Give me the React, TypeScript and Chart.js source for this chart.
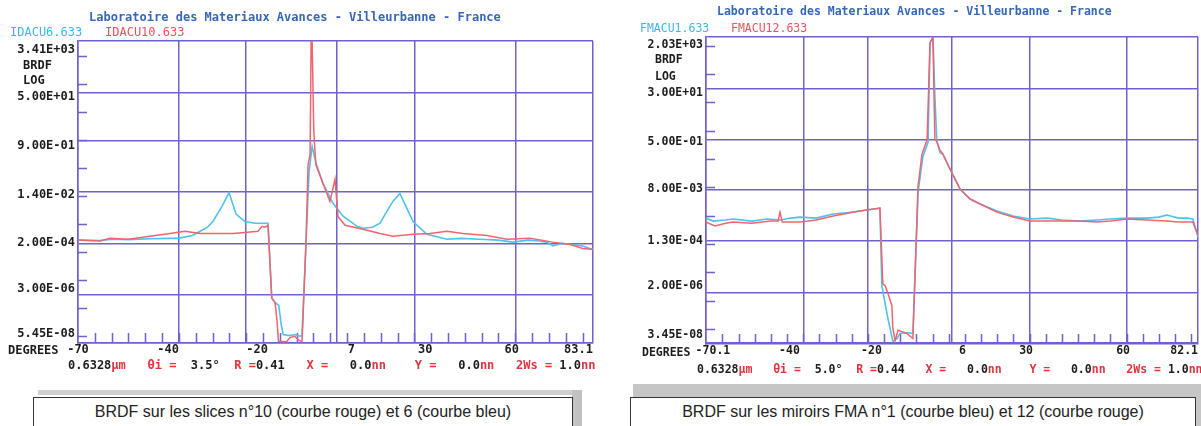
import React, { useEffect, useRef } from "react";
import { Chart, registerables } from "chart.js";
Chart.register(...registerables);

const GRID = "#6e62cc";
const BLUE = "#4cc2ec";
const RED = "#f0646e";
const INK = "#1c1c1c";
const LRED = "#e0343e";
const MONO = "'DejaVu Sans Mono', monospace";

// ---------- Left panel (slices) ----------
const leftXTicks = [-70, -40, -20, 7, 30, 60, 83.1];
const leftXLabels = ["-70", "-40   ", "   -20", "    7", "   30", "60 ", "83.1    "];
const leftYTicks = [5.45e-8, 3.0e-6, 2.0e-4, 1.4e-2, 9.0e-1, 5.0e1, 3.41e3];
const leftYLabels = ["5.45E-08", "3.00E-06", "2.00E-04", "1.40E-02", "9.00E-01", "5.00E+01", "3.41E+03"];
const leftYMinor = [1e3, 1e2, 1e1, 1e0, 1e-1, 1e-2, 1e-3, 1e-4, 1e-5, 1e-6, 1e-7];
const leftXMinor = [-65, -60, -55, -50, -45, -40, -35, -30, -25, -20, -15, -10, -5, 0, 5, 10, 15, 20, 25, 30, 35, 40, 45, 50, 55, 60, 65, 70, 75, 80];

const leftBlueX = [-70, -63.5, -60, -55, -48.6, -42.7, -40.3, -36, -33.7, -31.5, -29.9, -27.2, -25.1, -23.0, -20.4, -17.4, -13.5, -12.4, -11.4, -10.3, -9.6, -9.0, -7, -5.5, -4, -3.4, -2.2, -1.3, -0.4, 0.9, 2.8, 5.8, 8.8, 13, 14.7, 17.5, 19.8, 21.5, 23.6, 25.7, 27.5, 29.6, 33.7, 39.7, 44, 49.5, 55, 59.3, 63.8, 67, 69.4, 71.2, 74, 77.1, 80, 83.1];
const leftBlueY = [2.6e-4, 2.5e-4, 2.8e-4, 2.7e-4, 2.9e-4, 3.0e-4, 3.0e-4, 3.8e-4, 5.4e-4, 7.5e-4, 1.2e-3, 4.2e-3, 1.3e-2, 2.2e-3, 1.2e-3, 1.04e-3, 1.04e-3, 2.2e-6, 1.5e-6, 1.2e-6, 2.5e-7, 1.1e-7, 1.0e-7, 1.1e-7, 9.5e-8, 1.0e-7, 2.4e-4, 7.5e-2, 0.59, 0.13, 2.8e-2, 5.4e-3, 1.85e-3, 8.1e-4, 6.9e-4, 7.5e-4, 1.04e-3, 2.4e-3, 6.3e-3, 1.22e-2, 4.2e-3, 1.2e-3, 4.2e-4, 2.8e-4, 3.0e-4, 2.8e-4, 2.6e-4, 2.2e-4, 2.6e-4, 2.4e-4, 2.2e-4, 1.6e-4, 2.0e-4, 1.8e-4, 1.6e-4, 1.2e-4];

const leftRedX = [-70, -63.5, -60.5, -55, -48.6, -42.7, -38.2, -33.7, -29.3, -24, -20.4, -16.5, -15.3, -14.4, -13.5, -12.4, -11.4, -10.8, -10.4, -8, -7, -5.5, -4.5, -3.4, -2.2, -1.6, -1.0, -0.7, -0.4, 0.1, 0.7, 2.8, 4.9, 6.4, 7.3, 9.4, 14.7, 19.8, 23.6, 29.6, 34.6, 39.7, 44.4, 51.6, 57.5, 64.4, 71.2, 76.3, 80.1, 83.1];
const leftRedY = [2.6e-4, 2.4e-4, 3.0e-4, 2.8e-4, 3.6e-4, 4.5e-4, 5.4e-4, 4.5e-4, 4.5e-4, 4.5e-4, 4.9e-4, 5.4e-4, 8.1e-4, 7.5e-4, 8.8e-4, 2.2e-6, 1.5e-6, 3.0e-7, 6.3e-8, 6.0e-8, 8.5e-8, 9.5e-8, 7.0e-8, 6.0e-8, 2.4e-4, 0.13, 0.3, 3.41e3, 3.41e3, 2.0, 0.13, 2.8e-2, 6.3e-3, 3.9e-2, 1.8e-3, 8.8e-4, 6.3e-4, 4.5e-4, 3.6e-4, 4.2e-4, 4.5e-4, 5.4e-4, 4.5e-4, 3.8e-4, 2.8e-4, 3.0e-4, 2.2e-4, 1.8e-4, 1.3e-4, 1.2e-4];

// ---------- Right panel (FMA mirrors) ----------
const rightXTicks = [-70.1, -40, -20, 6, 30, 60, 82.1];
const rightXLabels = ["  -70.1", "-40    ", " -20", "   6", "30 ", "60 ", "82.1    "];
const rightYTicks = [3.45e-8, 2.0e-6, 1.3e-4, 8.0e-3, 5.0e-1, 3.0e1, 2.03e3];
const rightYLabels = ["3.45E-08", "2.00E-06", "1.30E-04", "8.00E-03", "5.00E-01", "3.00E+01", "2.03E+03"];
const rightYMinor = [1e3, 1e2, 1e1, 1e0, 1e-1, 1e-2, 1e-3, 1e-4, 1e-5, 1e-6, 1e-7];
const rightXMinor = [-65, -60, -55, -50, -45, -40, -35, -30, -25, -20, -15, -10, -5, 0, 5, 10, 15, 20, 25, 30, 35, 40, 45, 50, 55, 60, 65, 70, 75, 80];

const rightBlueX = [-70.1, -67.9, -64, -61.7, -56, -51.2, -47, -44, -41.0, -36, -30.8, -26, -22.5, -16.3, -15.7, -14.0, -12.3, -11, -10.1, -8, -6.1, -4.5, -3.0, -1.4, -0.8, 0.1, 0.7, 1.3, 2.3, 3.2, 5.4, 8.5, 11.6, 14.7, 19.9, 24.9, 30.1, 35.4, 40, 45.6, 50.8, 55, 60.1, 66.3, 70, 72.5, 76, 78.7, 80.5, 82.1];
const rightBlueY = [8.3e-4, 6.5e-4, 7.1e-4, 7.7e-4, 6.5e-4, 7.7e-4, 7.1e-4, 8.3e-4, 9.0e-4, 8.3e-4, 1.15e-3, 1.3e-3, 1.47e-3, 1.87e-3, 3.4e-6, 3.0e-7, 3.7e-8, 4.7e-8, 7.1e-8, 7.5e-8, 7.1e-8, 6.8e-3, 0.125, 0.39, 1.25e3, 2.03e3, 15.9, 0.42, 0.17, 0.147, 4.4e-2, 8.7e-3, 3.9e-3, 2.6e-3, 1.47e-3, 9.8e-4, 7.7e-4, 8.3e-4, 7.1e-4, 6.5e-4, 7.1e-4, 7.7e-4, 8.3e-4, 8.3e-4, 9.0e-4, 1.06e-3, 8.3e-4, 8.3e-4, 7.7e-4, 1.8e-4];

const rightRedX = [-70.1, -67.3, -64, -61.7, -56, -50, -47.8, -47.2, -46.5, -41.0, -36, -30.8, -22.5, -16.3, -15.4, -14.7, -13.8, -12.6, -12.3, -11.6, -10.7, -8, -6.1, -4.5, -3.3, -1.7, -0.8, 0.1, 0.7, 1.3, 2.3, 3.2, 5.4, 8.5, 11.6, 14.7, 19.9, 24.9, 30.1, 35.4, 40, 45.6, 50.8, 55, 60.1, 66.3, 72.5, 76, 78.7, 80.5, 82.1];
const rightRedY = [6.0e-4, 4.4e-4, 5.5e-4, 6.0e-4, 5.5e-4, 6.5e-4, 6.5e-4, 1.35e-3, 6.0e-4, 6.0e-4, 7.1e-4, 9.8e-4, 1.47e-3, 1.87e-3, 4.0e-6, 3.4e-6, 1.8e-6, 6.8e-7, 1.06e-7, 4.0e-8, 9.1e-8, 7.1e-8, 4.7e-8, 1.1e-2, 0.147, 0.49, 1.25e3, 2.03e3, 0.49, 0.42, 0.2, 0.15, 4.4e-2, 8.7e-3, 3.9e-3, 2.6e-3, 1.35e-3, 9.0e-4, 6.5e-4, 6.5e-4, 6.5e-4, 6.5e-4, 6.0e-4, 6.5e-4, 7.7e-4, 7.1e-4, 6.5e-4, 6.0e-4, 6.0e-4, 6.0e-4, 2.0e-4];

// Vertical nudges (px) of the y tick labels relative to their grid lines (layout only)
const leftYLabelNudge = [-9, -5, 0, 3, 5, 5, 9];
const rightYLabelNudge = [-7, -6, 0, -1, 3, 4, 8];

const minorTicksPlugin = {
  id: "minorTicks",
  beforeDatasetsDraw(chart: any, _args: any, opts: any) {
    const { ctx, chartArea, scales } = chart;
    ctx.save();
    ctx.strokeStyle = GRID;
    ctx.lineWidth = 1.5;
    ctx.beginPath();
    for (const v of opts.yMinor) {
      const y = Math.round(scales.y.getPixelForValue(v)) + 0.5;
      ctx.moveTo(chartArea.left, y);
      ctx.lineTo(chartArea.left + 9, y);
    }
    for (const v of opts.xMinor) {
      const x = Math.round(scales.x.getPixelForValue(v)) + 0.5;
      ctx.moveTo(x, chartArea.bottom);
      ctx.lineTo(x, chartArea.bottom - 10);
    }
    ctx.stroke();
    ctx.restore();
  },
};

type Panel = {
  xTicks: number[]; xLabels: string[]; yTicks: number[]; yLabels: string[]; yNudge: number[];
  yMinor: number[]; xMinor: number[];
  blueX: number[]; blueY: number[]; redX: number[]; redY: number[];
  yWidth: number; padding: any; fontSize: number;
};

function buildConfig(p: Panel): any {
  const font = { family: MONO, weight: "bold" as const, size: p.fontSize };
  return {
    type: "line",
    data: {
      datasets: [
        { data: p.redX.map((x, i) => ({ x, y: p.redY[i] })), borderColor: RED, borderWidth: 1.5, pointRadius: 0, tension: 0 },
        { data: p.blueX.map((x, i) => ({ x, y: p.blueY[i] })), borderColor: BLUE, borderWidth: 1.6, pointRadius: 0, tension: 0 },
      ],
    },
    options: {
      responsive: false,
      animation: false,
      devicePixelRatio: 1,
      layout: { padding: p.padding },
      plugins: {
        legend: { display: false },
        tooltip: { enabled: false },
        minorTicks: { yMinor: p.yMinor, xMinor: p.xMinor },
      },
      scales: {
        x: {
          type: "linear",
          min: p.xTicks[0],
          max: p.xTicks[p.xTicks.length - 1],
          afterBuildTicks: (s: any) => { s.ticks = p.xTicks.map((v) => ({ value: v })); },
          afterFit: (s: any) => { s.height = 20; s.paddingLeft = 0; s.paddingRight = 0; },
          ticks: { callback: (_v: any, i: number) => p.xLabels[i], font, color: INK, padding: 0, maxRotation: 0, autoSkip: false },
          grid: { color: GRID, lineWidth: 1.5, drawTicks: false },
          border: { color: GRID, width: 1.5 },
        },
        y: {
          type: "logarithmic",
          min: p.yTicks[0],
          max: p.yTicks[p.yTicks.length - 1],
          afterBuildTicks: (s: any) => { s.ticks = p.yTicks.map((v) => ({ value: v })); },
          afterFit: (s: any) => { s.width = p.yWidth; s.paddingTop = 0; s.paddingBottom = 0; },
          ticks: {
            callback: (_v: any, i: number) => {
              const n = p.yNudge[i] || 0;
              if (n > 0) return ["", p.yLabels[i]];
              if (n < 0) return [p.yLabels[i], ""];
              return p.yLabels[i];
            },
            font: (c: any) => {
              const n = Math.abs(p.yNudge[c.index] || 0);
              return { ...font, lineHeight: n > 0 ? `${2 * n}px` : 1.2 };
            },
            color: INK, padding: 3, autoSkip: false,
          },
          grid: { color: GRID, lineWidth: 1.5, drawTicks: false },
          border: { color: GRID, width: 1.5 },
        },
      },
    },
    plugins: [minorTicksPlugin],
  };
}

const leftPanel: Panel = {
  xTicks: leftXTicks, xLabels: leftXLabels, yTicks: leftYTicks, yLabels: leftYLabels, yNudge: leftYLabelNudge,
  yMinor: leftYMinor, xMinor: leftXMinor,
  blueX: leftBlueX, blueY: leftBlueY, redX: leftRedX, redY: leftRedY,
  yWidth: 78, padding: { left: 0, top: 41, right: 27, bottom: 17 }, fontSize: 12,
};
const rightPanel: Panel = {
  xTicks: rightXTicks, xLabels: rightXLabels, yTicks: rightYTicks, yLabels: rightYLabels, yNudge: rightYLabelNudge,
  yMinor: rightYMinor, xMinor: rightXMinor,
  blueX: rightBlueX, blueY: rightBlueY, redX: rightRedX, redY: rightRedY,
  yWidth: 106, padding: { left: 0, top: 37, right: 3, bottom: 21 }, fontSize: 11.5,
};

function T(props: { x: number; y: number; size: number; color?: string; bold?: boolean; children: any }) {
  return (
    <div style={{ position: "absolute", left: props.x, top: props.y - props.size / 2 - 1, fontFamily: MONO, fontSize: props.size, lineHeight: `${props.size + 2}px`, fontWeight: props.bold ? "bold" : "normal", color: props.color || INK, whiteSpace: "pre" }}>
      {props.children}
    </div>
  );
}

function Info(props: { x: number; y: number; size: number; theta: string; r: string }) {
  const segs: [string, string][] = [
    ["0.6328", INK], ["μm", LRED], ["   θi =", LRED], [`  ${props.theta}°`, INK], ["  R =", LRED], [props.r, INK],
    ["   X =", LRED], ["   0.0", INK], ["nn", LRED], ["    Y =", LRED], ["   0.0", INK], ["nn", LRED],
    ["   2Ws =", LRED], [" 1.0", INK], ["nn", LRED],
  ];
  return (
    <T x={props.x} y={props.y} size={props.size} bold>
      {segs.map((s, i) => <span key={i} style={{ color: s[1] }}>{s[0]}</span>)}
    </T>
  );
}

export default function App() {
  const leftRef = useRef<HTMLCanvasElement>(null);
  const rightRef = useRef<HTMLCanvasElement>(null);
  useEffect(() => {
    const c1 = new Chart(leftRef.current as HTMLCanvasElement, buildConfig(leftPanel));
    const c2 = new Chart(rightRef.current as HTMLCanvasElement, buildConfig(rightPanel));
    return () => { c1.destroy(); c2.destroy(); };
  }, []);

  const caption: React.CSSProperties = {
    position: "absolute", top: 397, height: 40, boxSizing: "border-box", border: "1.5px solid #333",
    background: "#fff", fontFamily: "'Liberation Sans', Arial, sans-serif", fontSize: 16, color: "#222",
    textAlign: "center", lineHeight: "27px", whiteSpace: "nowrap",
  };

  return (
    <div style={{ position: "absolute", left: 0, top: 0, width: 1201, height: 426, overflow: "hidden", background: "#fff" }}>
      <canvas ref={leftRef} width={620} height={380} style={{ position: "absolute", left: 0, top: 0 }} />
      <canvas ref={rightRef} width={601} height={385} style={{ position: "absolute", left: 600, top: 0 }} />

      <T x={89} y={17} size={12} color="#3566b8" bold>Laboratoire des Materiaux Avances - Villeurbanne - France</T>
      <T x={10} y={32} size={12} color="#38b8ea">IDACU6.633</T>
      <T x={105} y={32} size={12} color="#f0505c">IDACU10.633</T>
      <T x={23} y={65} size={12} bold>BRDF</T>
      <T x={23} y={80} size={12} bold>LOG</T>
      <T x={8} y={350} size={12} bold>DEGREES</T>
      <Info x={68} y={365} size={12} theta="3.5" r="0.41" />

      <T x={717} y={12} size={11.5} color="#3566b8" bold>Laboratoire des Materiaux Avances - Villeurbanne - France</T>
      <T x={640} y={29} size={11.5} color="#38b8ea">FMACU1.633</T>
      <T x={731} y={29} size={11.5} color="#f0505c">FMACU12.633</T>
      <T x={655} y={60} size={11.5} bold>BRDF</T>
      <T x={655} y={77} size={11.5} bold>LOG</T>
      <T x={642} y={353} size={11.5} bold>DEGREES</T>
      <Info x={697} y={370} size={11.5} theta="5.0" r="0.44" />

      <div style={{ position: "absolute", left: 38, top: 390, width: 544, height: 5, background: "#d0d0d0" }} />
      <div style={{ position: "absolute", left: 572, top: 390, width: 10, height: 36, background: "#c2c2c2" }} />
      <div style={{ ...caption, left: 33, width: 540 }}>BRDF sur les slices n°10 (courbe rouge) et 6 (courbe bleu)</div>

      <div style={{ position: "absolute", left: 633, top: 384, width: 568, height: 14, background: "#c6c6c6" }} />
      <div style={{ position: "absolute", left: 1194, top: 384, width: 7, height: 42, background: "#c6c6c6" }} />
      <div style={{ ...caption, left: 630, width: 566 }}>BRDF sur les miroirs FMA n°1 (courbe bleu) et 12 (courbe rouge)</div>
    </div>
  );
}
